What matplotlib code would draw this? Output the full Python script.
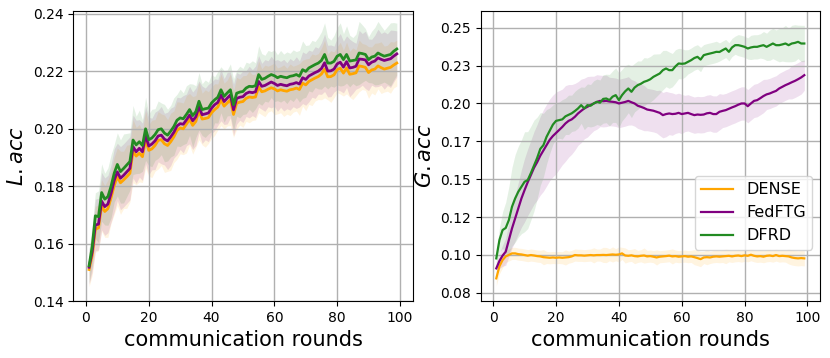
import numpy as np
import matplotlib
matplotlib.use("Agg")
import matplotlib.pyplot as plt

rounds = list(range(1, 100))

# local accuracy (left panel)
L_dfrd = [0.1523, 0.1590, 0.1697, 0.1694, 0.1778, 0.1755, 0.1764, 0.1800, 0.1845, 0.1876,
          0.1851, 0.1862, 0.1874, 0.1886, 0.1961, 0.1944, 0.1955, 0.1942, 0.2000, 0.1962,
          0.1968, 0.1980, 0.1997, 0.2000, 0.1985, 0.1978, 0.1992, 0.2008, 0.2030, 0.2038,
          0.2035, 0.2050, 0.2067, 0.2046, 0.2060, 0.2096, 0.2067, 0.2070, 0.2072, 0.2090,
          0.2101, 0.2110, 0.2136, 0.2113, 0.2125, 0.2136, 0.2084, 0.2124, 0.2128, 0.2130,
          0.2142, 0.2148, 0.2147, 0.2150, 0.2189, 0.2172, 0.2176, 0.2183, 0.2189, 0.2185,
          0.2178, 0.2183, 0.2180, 0.2178, 0.2183, 0.2185, 0.2189, 0.2183, 0.2206, 0.2200,
          0.2212, 0.2218, 0.2224, 0.2229, 0.2238, 0.2259, 0.2229, 0.2229, 0.2235, 0.2253,
          0.2259, 0.2241, 0.2259, 0.2236, 0.2238, 0.2240, 0.2264, 0.2262, 0.2259, 0.2241,
          0.2250, 0.2253, 0.2264, 0.2258, 0.2253, 0.2256, 0.2259, 0.2270, 0.2278]
L_fedftg = [0.1518, 0.1572, 0.1665, 0.1668, 0.1748, 0.1729, 0.1738, 0.1775, 0.1820, 0.1850,
            0.1828, 0.1838, 0.1850, 0.1862, 0.1938, 0.1920, 0.1932, 0.1920, 0.1978, 0.1940,
            0.1947, 0.1958, 0.1975, 0.1978, 0.1964, 0.1958, 0.1972, 0.1988, 0.2010, 0.2018,
            0.2016, 0.2031, 0.2048, 0.2028, 0.2042, 0.2077, 0.2049, 0.2052, 0.2055, 0.2072,
            0.2084, 0.2092, 0.2118, 0.2095, 0.2107, 0.2118, 0.2066, 0.2106, 0.2110, 0.2112,
            0.2123, 0.2128, 0.2126, 0.2129, 0.2165, 0.2148, 0.2151, 0.2157, 0.2163, 0.2158,
            0.2151, 0.2155, 0.2152, 0.2150, 0.2155, 0.2157, 0.2161, 0.2156, 0.2178, 0.2172,
            0.2184, 0.2190, 0.2196, 0.2201, 0.2210, 0.2230, 0.2201, 0.2202, 0.2208, 0.2226,
            0.2232, 0.2215, 0.2234, 0.2212, 0.2214, 0.2218, 0.2243, 0.2242, 0.2240, 0.2223,
            0.2232, 0.2236, 0.2247, 0.2242, 0.2238, 0.2241, 0.2244, 0.2253, 0.2261]
L_dense = [0.1510, 0.1560, 0.1650, 0.1655, 0.1732, 0.1712, 0.1722, 0.1760, 0.1802, 0.1833,
           0.1812, 0.1822, 0.1833, 0.1845, 0.1922, 0.1905, 0.1915, 0.1903, 0.1962, 0.1925,
           0.1930, 0.1942, 0.1960, 0.1962, 0.1948, 0.1942, 0.1955, 0.1972, 0.1994, 0.2003,
           0.2000, 0.2016, 0.2033, 0.2012, 0.2026, 0.2062, 0.2034, 0.2036, 0.2039, 0.2056,
           0.2067, 0.2076, 0.2101, 0.2079, 0.2090, 0.2101, 0.2050, 0.2089, 0.2093, 0.2095,
           0.2106, 0.2111, 0.2109, 0.2111, 0.2146, 0.2129, 0.2132, 0.2138, 0.2143, 0.2139,
           0.2132, 0.2136, 0.2133, 0.2131, 0.2136, 0.2138, 0.2142, 0.2137, 0.2159, 0.2153,
           0.2165, 0.2171, 0.2177, 0.2182, 0.2191, 0.2208, 0.2181, 0.2182, 0.2188, 0.2206,
           0.2211, 0.2194, 0.2212, 0.2190, 0.2192, 0.2195, 0.2219, 0.2217, 0.2214, 0.2196,
           0.2205, 0.2208, 0.2219, 0.2213, 0.2208, 0.2211, 0.2214, 0.2222, 0.2229]

L_dfrd_sd = [0.006, 0.007, 0.008, 0.009, 0.010, 0.009, 0.010, 0.011, 0.010, 0.011,
             0.011, 0.012, 0.011, 0.010, 0.012, 0.010, 0.011, 0.009, 0.011, 0.009,
             0.010, 0.009, 0.010, 0.009, 0.010, 0.009, 0.009, 0.010, 0.009, 0.010,
             0.009, 0.010, 0.009, 0.011, 0.009, 0.010, 0.009, 0.010, 0.009, 0.010,
             0.008, 0.009, 0.008, 0.009, 0.008, 0.009, 0.009, 0.008, 0.009, 0.008,
             0.009, 0.008, 0.009, 0.008, 0.010, 0.009, 0.008, 0.009, 0.008, 0.009,
             0.008, 0.009, 0.008, 0.009, 0.008, 0.009, 0.008, 0.009, 0.010, 0.009,
             0.008, 0.009, 0.008, 0.009, 0.010, 0.011, 0.009, 0.008, 0.009, 0.010,
             0.011, 0.009, 0.010, 0.009, 0.008, 0.009, 0.011, 0.010, 0.009, 0.008,
             0.009, 0.010, 0.011, 0.010, 0.009, 0.010, 0.011, 0.010, 0.009]
L_fedftg_sd = [0.006, 0.007, 0.009, 0.009, 0.010, 0.010, 0.010, 0.010, 0.011, 0.010,
               0.011, 0.011, 0.011, 0.011, 0.011, 0.011, 0.010, 0.010, 0.010, 0.010,
               0.009, 0.010, 0.009, 0.010, 0.009, 0.010, 0.010, 0.009, 0.010, 0.009,
               0.010, 0.009, 0.010, 0.010, 0.010, 0.009, 0.010, 0.009, 0.010, 0.009,
               0.009, 0.008, 0.009, 0.008, 0.009, 0.008, 0.009, 0.009, 0.008, 0.009,
               0.008, 0.009, 0.008, 0.009, 0.009, 0.008, 0.009, 0.008, 0.009, 0.008,
               0.009, 0.008, 0.009, 0.008, 0.009, 0.008, 0.009, 0.008, 0.009, 0.009,
               0.009, 0.008, 0.009, 0.008, 0.009, 0.010, 0.009, 0.009, 0.008, 0.009,
               0.010, 0.009, 0.009, 0.010, 0.009, 0.008, 0.010, 0.009, 0.010, 0.009,
               0.008, 0.009, 0.010, 0.009, 0.010, 0.009, 0.010, 0.009, 0.008]
L_dense_sd = [0.006, 0.007, 0.008, 0.008, 0.009, 0.009, 0.010, 0.009, 0.010, 0.010,
              0.011, 0.010, 0.011, 0.010, 0.011, 0.010, 0.010, 0.009, 0.010, 0.009,
              0.010, 0.009, 0.010, 0.009, 0.010, 0.009, 0.010, 0.009, 0.010, 0.009,
              0.009, 0.010, 0.009, 0.010, 0.009, 0.010, 0.009, 0.010, 0.009, 0.009,
              0.009, 0.008, 0.009, 0.008, 0.008, 0.009, 0.008, 0.009, 0.008, 0.009,
              0.008, 0.009, 0.008, 0.008, 0.009, 0.008, 0.009, 0.008, 0.008, 0.009,
              0.008, 0.008, 0.009, 0.008, 0.009, 0.008, 0.008, 0.009, 0.008, 0.009,
              0.008, 0.009, 0.008, 0.008, 0.009, 0.010, 0.008, 0.009, 0.008, 0.008,
              0.009, 0.008, 0.009, 0.008, 0.009, 0.008, 0.009, 0.008, 0.008, 0.009,
              0.008, 0.009, 0.008, 0.009, 0.008, 0.008, 0.009, 0.008, 0.008]

# global accuracy (right panel)
G_dfrd = [0.0977, 0.1098, 0.1164, 0.1178, 0.1230, 0.1318, 0.1373, 0.1417, 0.1450, 0.1483,
          0.1494, 0.1540, 0.1590, 0.1640, 0.1700, 0.1725, 0.1780, 0.1820, 0.1860, 0.1885,
          0.1890, 0.1895, 0.1915, 0.1925, 0.1935, 0.1950, 0.1967, 0.1989, 0.1967, 0.1989,
          0.1985, 0.2000, 0.2011, 0.2005, 0.2030, 0.2033, 0.2022, 0.2045, 0.2055, 0.2022,
          0.2055, 0.2080, 0.2099, 0.2077, 0.2105, 0.2121, 0.2130, 0.2143, 0.2150, 0.2160,
          0.2176, 0.2187, 0.2198, 0.2220, 0.2231, 0.2220, 0.2220, 0.2245, 0.2264, 0.2262,
          0.2264, 0.2275, 0.2286, 0.2300, 0.2308, 0.2290, 0.2319, 0.2325, 0.2330, 0.2335,
          0.2341, 0.2340, 0.2352, 0.2363, 0.2341, 0.2370, 0.2385, 0.2385, 0.2380, 0.2374,
          0.2363, 0.2370, 0.2374, 0.2374, 0.2380, 0.2385, 0.2374, 0.2385, 0.2396, 0.2385,
          0.2385, 0.2390, 0.2396, 0.2385, 0.2396, 0.2400, 0.2407, 0.2396, 0.2396]
G_fedftg = [0.0911, 0.0960, 0.0995, 0.1021, 0.1098, 0.1175, 0.1241, 0.1307, 0.1373, 0.1428,
            0.1480, 0.1527, 0.1575, 0.1612, 0.1655, 0.1690, 0.1725, 0.1760, 0.1785, 0.1805,
            0.1825, 0.1845, 0.1868, 0.1885, 0.1895, 0.1912, 0.1934, 0.1951, 0.1967, 0.1978,
            0.1990, 0.2000, 0.2010, 0.2017, 0.2015, 0.2017, 0.2013, 0.2011, 0.2008, 0.2000,
            0.2005, 0.2010, 0.2017, 0.2008, 0.2000, 0.1985, 0.1978, 0.1970, 0.1960, 0.1956,
            0.1952, 0.1945, 0.1938, 0.1923, 0.1930, 0.1934, 0.1930, 0.1932, 0.1938, 0.1930,
            0.1934, 0.1938, 0.1930, 0.1923, 0.1927, 0.1925, 0.1927, 0.1935, 0.1938, 0.1930,
            0.1930, 0.1945, 0.1951, 0.1956, 0.1965, 0.1974, 0.1982, 0.1992, 0.2000, 0.2000,
            0.1982, 0.2000, 0.2017, 0.2022, 0.2035, 0.2049, 0.2060, 0.2066, 0.2075, 0.2083,
            0.2099, 0.2110, 0.2121, 0.2130, 0.2140, 0.2149, 0.2160, 0.2172, 0.2187]
G_dense = [0.0845, 0.0925, 0.0966, 0.0990, 0.1000, 0.1010, 0.1010, 0.1005, 0.1003, 0.0999,
           0.0995, 0.0999, 0.0996, 0.0992, 0.0990, 0.0985, 0.0983, 0.0981, 0.0983, 0.0981,
           0.0983, 0.0981, 0.0983, 0.0985, 0.0990, 0.0999, 0.0997, 0.0997, 0.0995, 0.0997,
           0.0999, 0.0997, 0.0999, 0.0999, 0.1000, 0.0999, 0.1001, 0.1003, 0.1001, 0.1003,
           0.1010, 0.0996, 0.0994, 0.0997, 0.0992, 0.0990, 0.0994, 0.0996, 0.0990, 0.0992,
           0.0988, 0.0983, 0.0988, 0.0990, 0.0992, 0.0995, 0.0990, 0.0992, 0.0988, 0.0990,
           0.0992, 0.0988, 0.0990, 0.0985, 0.0979, 0.0972, 0.0983, 0.0985, 0.0983, 0.0988,
           0.0990, 0.0988, 0.0990, 0.0992, 0.0994, 0.0990, 0.0994, 0.0996, 0.0992, 0.0997,
           0.0994, 0.1001, 0.0994, 0.0990, 0.0992, 0.0988, 0.0994, 0.0996, 0.0992, 0.0999,
           0.0992, 0.0994, 0.0992, 0.0990, 0.0983, 0.0979, 0.0977, 0.0979, 0.0977]

G_dfrd_sd = [0.004, 0.008, 0.012, 0.017, 0.022, 0.026, 0.029, 0.030, 0.031, 0.033,
             0.032, 0.031, 0.030, 0.027, 0.024, 0.021, 0.018, 0.015, 0.013, 0.012,
             0.012, 0.013, 0.012, 0.013, 0.012, 0.013, 0.013, 0.012, 0.014, 0.014,
             0.014, 0.015, 0.015, 0.015, 0.016, 0.016, 0.017, 0.017, 0.018, 0.018,
             0.017, 0.017, 0.016, 0.017, 0.016, 0.016, 0.015, 0.016, 0.015, 0.015,
             0.015, 0.014, 0.013, 0.013, 0.012, 0.012, 0.011, 0.011, 0.010, 0.010,
             0.009, 0.008, 0.008, 0.008, 0.008, 0.008, 0.007, 0.007, 0.007, 0.007,
             0.007, 0.006, 0.006, 0.006, 0.006, 0.006, 0.006, 0.007, 0.007, 0.007,
             0.007, 0.008, 0.008, 0.008, 0.008, 0.009, 0.009, 0.010, 0.010, 0.010,
             0.011, 0.011, 0.012, 0.011, 0.012, 0.012, 0.011, 0.012, 0.012]
G_fedftg_sd = [0.004, 0.005, 0.007, 0.009, 0.011, 0.013, 0.015, 0.017, 0.019, 0.021,
               0.022, 0.023, 0.024, 0.025, 0.026, 0.027, 0.027, 0.027, 0.027, 0.027,
               0.026, 0.025, 0.025, 0.024, 0.023, 0.022, 0.021, 0.021, 0.020, 0.020,
               0.019, 0.018, 0.018, 0.017, 0.017, 0.017, 0.016, 0.016, 0.016, 0.016,
               0.016, 0.016, 0.016, 0.015, 0.015, 0.015, 0.015, 0.015, 0.014, 0.014,
               0.014, 0.014, 0.015, 0.015, 0.015, 0.014, 0.014, 0.013, 0.013, 0.013,
               0.012, 0.012, 0.012, 0.012, 0.012, 0.012, 0.012, 0.012, 0.012, 0.012,
               0.012, 0.012, 0.011, 0.011, 0.011, 0.011, 0.011, 0.011, 0.011, 0.011,
               0.011, 0.011, 0.011, 0.011, 0.011, 0.011, 0.010, 0.010, 0.010, 0.010,
               0.010, 0.010, 0.010, 0.010, 0.011, 0.011, 0.011, 0.011, 0.010]
G_dense_sd = [0.005, 0.005, 0.005, 0.004, 0.004, 0.004, 0.004, 0.004, 0.004, 0.004,
              0.004, 0.004, 0.004, 0.004, 0.004, 0.005, 0.004, 0.004, 0.004, 0.004,
              0.004, 0.004, 0.005, 0.004, 0.004, 0.004, 0.004, 0.004, 0.004, 0.004,
              0.004, 0.005, 0.004, 0.004, 0.005, 0.005, 0.004, 0.005, 0.004, 0.005,
              0.004, 0.005, 0.004, 0.004, 0.005, 0.004, 0.004, 0.005, 0.004, 0.004,
              0.004, 0.005, 0.004, 0.004, 0.004, 0.004, 0.005, 0.004, 0.004, 0.004,
              0.004, 0.004, 0.004, 0.005, 0.005, 0.005, 0.004, 0.005, 0.004, 0.004,
              0.004, 0.004, 0.004, 0.005, 0.004, 0.004, 0.004, 0.004, 0.004, 0.004,
              0.004, 0.004, 0.004, 0.004, 0.004, 0.004, 0.004, 0.004, 0.004, 0.004,
              0.004, 0.004, 0.004, 0.005, 0.005, 0.005, 0.005, 0.005, 0.005]

methods = ["DENSE", "FedFTG", "DFRD"]
colors = ["orange", "purple", "forestgreen"]

G_ticks = [0.075, 0.1, 0.125, 0.15, 0.175, 0.2, 0.225, 0.25]
G_ticklabels = ["0.08", "0.10", "0.12", "0.15", "0.17", "0.20", "0.23", "0.25"]
L_ticks = [0.14, 0.16, 0.18, 0.20, 0.22, 0.24]

fig = plt.figure(figsize=(8.3, 3.58), dpi=100)
ax1 = fig.add_axes([0.0884, 0.159, 0.4086, 0.810])
ax2 = fig.add_axes([0.579, 0.159, 0.409, 0.810])

x = np.array(rounds)
for ax, means, sds, lw in [(ax1, [L_dense, L_fedftg, L_dfrd], [L_dense_sd, L_fedftg_sd, L_dfrd_sd], 2.0),
                           (ax2, [G_dense, G_fedftg, G_dfrd], [G_dense_sd, G_fedftg_sd, G_dfrd_sd], 1.6)]:
    for m, s, c, name in zip(means, sds, colors, methods):
        m, s = np.array(m), np.array(s)
        ax.plot(x, m, color=c, lw=lw, label=name)
        ax.fill_between(x, m - s, m + s, color=c, alpha=0.12, lw=0)
    ax.grid(True, color="#b0b0b0", lw=1.0)
    ax.set_xlim(-4, 104)
    ax.set_xticks([0, 20, 40, 60, 80, 100])
    ax.tick_params(labelsize=10)
    ax.set_xlabel("communication rounds", fontsize=15)

ax1.set_ylim(0.14, 0.241)
ax1.set_yticks(L_ticks)
ax1.set_yticklabels(["%.2f" % t for t in L_ticks])
ax1.set_ylabel(r"$L.acc$", fontsize=15)

ax2.set_ylim(0.0695, 0.261)
ax2.set_yticks(G_ticks)
ax2.set_yticklabels(G_ticklabels)
ax2.set_ylabel(r"$G.acc$", fontsize=15)
ax2.legend(loc="lower right", bbox_to_anchor=(1.0, 0.15), fontsize=11.5)

plt.savefig("out.png", dpi=100)
plt.close()
